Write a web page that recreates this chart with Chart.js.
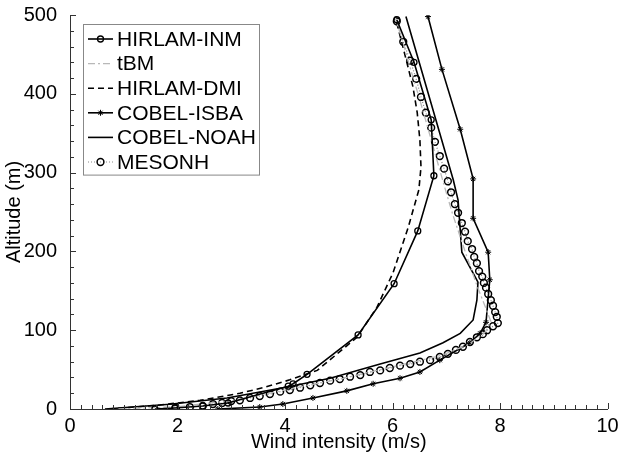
<!DOCTYPE html>
<html>
<head>
<meta charset="utf-8">
<script src="https://cdn.jsdelivr.net/npm/chart.js@4/dist/chart.umd.min.js"></script>
<style>
  html, body { margin: 0; padding: 0; background: #fff; }
  #wrap { width: 627px; height: 455px; }
</style>
</head>
<body>
<div id="wrap"><canvas id="grafico" width="627" height="455"></canvas></div>
<script>
// series labels (legend order)
const seriesNames = ['HIRLAM-INM', 'tBM', 'HIRLAM-DMI', 'COBEL-ISBA', 'COBEL-NOAH', 'MESONH'];

// wind intensity (m/s) and altitude (m)
const inmWind = [1.58, 1.95, 2.47, 2.94, 4.06, 4.15, 4.41, 5.36, 6.03, 6.47, 6.77, 6.72, 6.40, 6.08];
const inmAlt  = [0, 1.3, 3.8, 7.6, 29, 32, 44, 94, 159, 226, 296, 367, 440, 494];

const tbmWind = [0.90, 2.02, 3.04, 4.06, 5.08, 6.10, 6.91, 7.42, 7.73, 7.83, 7.73, 7.58, 7.37, 7.12, 6.96, 6.81, 6.66, 6.51, 6.35, 6.20, 6.05];
const tbmAlt  = [0, 3, 11, 25, 39, 55, 68, 82, 98, 111, 129, 155, 196, 247, 284, 320, 356, 392, 428, 464, 497];

const dmiWind = [0.71, 1.67, 2.42, 3.16, 3.59, 4.09, 4.60, 5.34, 5.71, 6.01, 6.29, 6.49, 6.53, 6.51, 6.46, 6.38, 6.27, 6.05];
const dmiAlt  = [0, 5, 11, 20, 27, 37, 49, 91, 129, 173, 230, 278, 307, 341, 376, 409, 439, 498];

const isbaWind = [2.75, 3.53, 3.96, 4.52, 5.15, 5.64, 6.14, 6.51, 6.88, 7.44, 7.63, 7.74, 7.81, 7.78, 7.50, 7.50, 7.26, 6.92, 6.66];
const isbaAlt  = [0, 2.5, 6.3, 14, 23, 32, 39, 47, 62, 84, 96, 110, 164, 199, 242, 292, 355, 431, 498];

const noahWind = [0.65, 1.86, 2.92, 4.04, 4.84, 5.77, 6.51, 6.94, 7.26, 7.50, 7.57, 7.59, 7.29, 7.22, 7.13, 6.25];
const noahAlt  = [0, 6, 14, 28, 39, 57, 71, 84, 96, 113, 138, 161, 199, 265, 291, 498];

const mesoWind = [1.97, 2.23, 2.47, 2.66, 2.83, 3.00, 3.16, 3.35, 3.53, 3.72, 3.91, 4.09, 4.28, 4.47, 4.65, 4.84,
                  5.02, 5.21, 5.40, 5.58, 5.77, 5.95, 6.14, 6.33, 6.51, 6.70, 6.88, 7.03, 7.18, 7.31, 7.44, 7.57,
                  7.68, 7.76, 7.87, 7.96, 7.94, 7.91, 7.87, 7.83, 7.78, 7.74, 7.70, 7.67, 7.61, 7.57, 7.52, 7.48,
                  7.40, 7.35, 7.29, 7.22, 7.16, 7.09, 7.03, 6.96, 6.88, 6.79, 6.72, 6.62, 6.53, 6.44, 6.33, 6.20, 6.08];
const mesoAlt  = [1.3, 2.5, 3.8, 6.3, 7.6, 10, 11, 14, 16.5, 19, 22, 24, 27, 30, 33, 36,
                  38, 41, 43, 47, 49, 52, 55, 57, 60, 62, 66, 70, 75, 79, 85, 91,
                  95, 100, 105, 109, 117, 123, 131, 138, 146, 154, 160, 168, 175, 185, 193, 203,
                  213, 225, 236, 249, 260, 275, 289, 305, 321, 339, 357, 376, 396, 419, 442, 466, 492];

// axis ticks
const windTicks = [0, 2, 4, 6, 8, 10];
const altTicks = [0, 100, 200, 300, 400, 500];
const windMinorStep = 0.2;
const altMinorStep = 20;

const FONT = "'Liberation Sans', Arial, Helvetica, sans-serif";

function pares(xs, ys) {
    return xs.map((v, i) => ({ x: v, y: ys[i] }));
}

// inward tick marks, MATLAB style
const marcasEixo = {
    id: 'marcasEixo',
    afterDraw(chart) {
        const { ctx, scales: { x, y } } = chart;
        ctx.save();
        ctx.strokeStyle = '#333';
        ctx.lineWidth = 1;
        ctx.beginPath();
        const nX = Math.round((windTicks[windTicks.length - 1] - windTicks[0]) / windMinorStep);
        for (let i = 0; i <= nX; i++) {
            const v = windTicks[0] + i * windMinorStep;
            const major = i % 10 === 0;
            const px = Math.round(x.getPixelForValue(v)) + 0.5;
            ctx.moveTo(px, y.bottom);
            ctx.lineTo(px, y.bottom - (major ? 6 : 4));
        }
        const nY = Math.round((altTicks[altTicks.length - 1] - altTicks[0]) / altMinorStep);
        for (let i = 0; i <= nY; i++) {
            const v = altTicks[0] + i * altMinorStep;
            const major = i % 5 === 0;
            const py = Math.round(y.getPixelForValue(v)) + 0.5;
            ctx.moveTo(x.left, py);
            ctx.lineTo(x.left + (major ? 6 : 4), py);
        }
        ctx.stroke();
        ctx.restore();
    }
};

// boxed legend in the upper-left corner of the plot
const legendaCaixa = {
    id: 'legendaCaixa',
    afterDraw(chart) {
        const { ctx, chartArea } = chart;
        const left = chartArea.left + 13, top = chartArea.top + 9;
        const w = 176, rowH = 24.6, h = rowH * chart.data.datasets.length + 3;
        ctx.save();
        ctx.fillStyle = '#fff';
        ctx.fillRect(left, top, w, h);
        ctx.strokeStyle = '#888';
        ctx.lineWidth = 1;
        ctx.strokeRect(left + 0.5, top + 0.5, w, h);
        ctx.font = '21px ' + FONT;
        ctx.textBaseline = 'middle';
        chart.data.datasets.forEach((ds, i) => {
            const cy = top + 15 + i * rowH;
            const x0 = left + 5, x1 = left + 30;
            ctx.strokeStyle = ds.borderColor;
            ctx.lineWidth = ds.borderWidth;
            ctx.setLineDash(ds.borderDash || []);
            ctx.beginPath();
            ctx.moveTo(x0, cy);
            ctx.lineTo(x1, cy);
            ctx.stroke();
            ctx.setLineDash([]);
            if (ds.pointRadius > 0) {
                const cx = (x0 + x1) / 2, r = ds.pointRadius;
                ctx.strokeStyle = ds.pointBorderColor;
                ctx.lineWidth = ds.pointBorderWidth;
                ctx.beginPath();
                if (ds.pointStyle === 'star') {
                    ctx.moveTo(cx - r, cy); ctx.lineTo(cx + r, cy);
                    ctx.moveTo(cx, cy - r); ctx.lineTo(cx, cy + r);
                    ctx.moveTo(cx - r * 0.7, cy - r * 0.7); ctx.lineTo(cx + r * 0.7, cy + r * 0.7);
                    ctx.moveTo(cx - r * 0.7, cy + r * 0.7); ctx.lineTo(cx + r * 0.7, cy - r * 0.7);
                } else {
                    ctx.arc(cx, cy, r, 0, Math.PI * 2);
                }
                ctx.stroke();
            }
            ctx.fillStyle = '#000';
            ctx.fillText(ds.label, left + 34, cy + 1);
        });
        ctx.restore();
    }
};

function desenharGrafico() {
    const ctx = document.getElementById('grafico').getContext('2d');
    new Chart(ctx, {
        type: 'scatter',
        data: {
            datasets: [
                {
                    label: seriesNames[0], data: pares(inmWind, inmAlt),
                    showLine: true, borderColor: '#000', borderWidth: 1.6,
                    pointRadius: 3, pointStyle: 'circle', pointBorderColor: '#000',
                    pointBackgroundColor: 'rgba(0,0,0,0)', pointBorderWidth: 1.3
                },
                {
                    label: seriesNames[1], data: pares(tbmWind, tbmAlt),
                    showLine: true, borderColor: '#b8b8b8', borderWidth: 1.3,
                    borderDash: [7, 3, 2, 3], pointRadius: 0
                },
                {
                    label: seriesNames[2], data: pares(dmiWind, dmiAlt),
                    showLine: true, borderColor: '#000', borderWidth: 1.6,
                    borderDash: [6, 4], pointRadius: 0
                },
                {
                    label: seriesNames[3], data: pares(isbaWind, isbaAlt),
                    showLine: true, borderColor: '#000', borderWidth: 1.6,
                    pointRadius: 3, pointStyle: 'star', pointBorderColor: '#000',
                    pointBackgroundColor: '#000', pointBorderWidth: 1
                },
                {
                    label: seriesNames[4], data: pares(noahWind, noahAlt),
                    showLine: true, borderColor: '#000', borderWidth: 1.6,
                    pointRadius: 0
                },
                {
                    label: seriesNames[5], data: pares(mesoWind, mesoAlt),
                    showLine: true, borderColor: '#888', borderWidth: 1.2,
                    borderDash: [1, 2], pointRadius: 3.4, pointStyle: 'circle',
                    pointBorderColor: '#000', pointBackgroundColor: 'rgba(255,255,255,0)',
                    pointBorderWidth: 1.5
                }
            ]
        },
        options: {
            responsive: false,
            animation: false,
            layout: { padding: { top: 15, right: 19.5, left: 0, bottom: 0 } },
            plugins: {
                legend: { display: false },
                tooltip: { enabled: false }
            },
            scales: {
                x: {
                    type: 'linear', min: 0, max: 10,
                    afterBuildTicks: s => { s.ticks = windTicks.map(v => ({ value: v })); },
                    afterFit: s => { s.height = 46; s.paddingLeft = 0; s.paddingRight = 0; },
                    grid: { display: false, drawTicks: false },
                    border: { display: true, color: '#333', width: 1 },
                    ticks: { color: '#000', font: { family: FONT, size: 20 }, padding: 5, maxRotation: 0 },
                    title: { display: true, text: 'Wind intensity (m/s)', color: '#000',
                             font: { family: FONT, size: 20 }, padding: { top: 0, bottom: 1 } }
                },
                y: {
                    type: 'linear', min: 0, max: 500,
                    afterBuildTicks: s => { s.ticks = altTicks.map(v => ({ value: v })); },
                    afterFit: s => { s.width = 70; s.paddingTop = 0; s.paddingBottom = 0; },
                    grid: { display: false, drawTicks: false },
                    border: { display: true, color: '#333', width: 1 },
                    ticks: { color: '#000', font: { family: FONT, size: 20 }, padding: 13 },
                    title: { display: true, text: 'Altitude (m)', color: '#000',
                             font: { family: FONT, size: 20 }, padding: { top: 2, bottom: 0 } }
                }
            }
        },
        plugins: [marcasEixo, legendaCaixa]
    });
}

document.addEventListener('DOMContentLoaded', desenharGrafico);
</script>
</body>
</html>
